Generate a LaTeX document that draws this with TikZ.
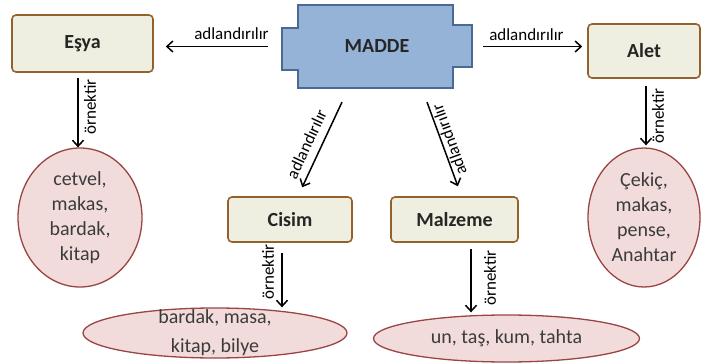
\documentclass[tikz,border=0pt]{standalone}
\usepackage{fontspec}
\setmainfont{Carlito}
\usepackage{tikz}
\usetikzlibrary{arrows.meta,shapes.geometric}
\definecolor{boxfill}{HTML}{EEEFE0}
\definecolor{boxrule}{HTML}{94602C}
\definecolor{blobfill}{HTML}{F2DCDB}
\definecolor{blobrule}{HTML}{9A4443}
\definecolor{mfill}{HTML}{95B3D7}
\definecolor{mrule}{HTML}{4A6A96}
\definecolor{ink}{HTML}{3B3B3B}
\begin{document}
\begin{tikzpicture}[x=1pt,y=-1pt,>={Straight Barb[length=6pt,width=11pt]},
 box/.style={draw=boxrule,line width=1.6pt,fill=boxfill,rounded corners=4pt,font=\fontsize{20}{24}\selectfont\bfseries,text=black!85},
 blob/.style={ellipse,draw=blobrule,line width=1.3pt,fill=blobfill,inner sep=0pt,align=center,font=\fontsize{20}{25}\selectfont,text=ink},
 lbl/.style={font=\fontsize{17}{20}\selectfont,inner sep=0pt},
 arr/.style={->,line width=1.5pt}]
\useasboundingbox (0,0) rectangle (706,363);
\draw[fill=mfill,draw=mrule,line width=1.3pt] (298,5) -- (453,5) -- (453,25) -- (472,25) -- (472,67) -- (453,67) -- (453,88) -- (298,88) -- (298,70) -- (282,70) -- (282,28) -- (298,28) -- cycle;
\node[minimum width=190pt,minimum height=83pt,font=\fontsize{20}{24}\selectfont\bfseries,text=black!85] (madde) at (377,46.5) {MADDE};
\node[box,minimum width=141pt,minimum height=57pt] (esya) at (82.5,43.5) {Eşya};
\node[box,minimum width=112pt,minimum height=54pt] (alet) at (644,51) {Alet};
\node[box,minimum width=124pt,minimum height=45pt] (cisim) at (290,219.5) {Cisim};
\node[box,minimum width=127pt,minimum height=45pt] (malzeme) at (454.5,219.5) {Malzeme};
\node[blob,minimum width=124pt,minimum height=139pt] (eblob) at (80,217.5) {cetvel,\\makas,\\bardak,\\kitap};
\node[blob,minimum width=112pt,minimum height=139pt] (ablob) at (644,217.5) {Çekiç,\\makas,\\pense,\\Anahtar};
\node[blob,minimum width=264pt,minimum height=50pt,inner ysep=-12pt,font=\fontsize{20}{29}\selectfont] (cblob) at (215,333) {bardak, masa,\\kitap, bilye};
\node[blob,minimum width=266pt,minimum height=47pt] (mblob) at (506.5,338.5) {un, taş, kum, tahta};
\draw[arr,shorten <=14pt,shorten >=12pt] (madde.west) -- (madde.west -| esya.east);
\draw[arr,shorten <=11pt,shorten >=5pt] (madde.east) -- (madde.east -| alet.west);
\draw[arr,shorten <=15.4pt,shorten >=9.9pt] ([xshift=-28.5pt]madde.south) -- ([xshift=8pt]cisim.north);
\draw[arr,shorten <=14.9pt,shorten >=10.6pt] ([xshift=44.9pt]madde.south) -- ([xshift=7pt]malzeme.north);
\draw[arr,shorten <=5pt] ([xshift=-4.5pt]esya.south) -- ([xshift=-2pt]eblob.north);
\draw[arr,shorten <=7pt,shorten >=2pt] ([xshift=2pt]alet.south) -- ([xshift=2pt]ablob.north);
\draw[arr,shorten <=10pt] ([xshift=-8pt]cisim.south) -- ([xshift=-8pt]cisim.south |- cblob.north);
\draw[arr,shorten <=6pt,shorten >=2pt] ([xshift=16.5pt]malzeme.south) -- ([xshift=16.5pt]malzeme.south |- mblob.north);
\node[lbl] (adlEsya) at (231.5,34) {adlandırılır};
\node[lbl] (adlAlet) at (526.5,35) {adlandırılır};
\node[lbl,rotate=65] (adlCisim) at (306.5,144) {adlandırılır};
\node[lbl,rotate=110] (adlMalzeme) at (449,140) {adlandırılır};
\node[lbl,rotate=90] (orkEsya) at (90,107) {örnektir};
\node[lbl,rotate=90] (orkAlet) at (658,116) {örnektir};
\node[lbl,rotate=90] (orkCisim) at (268,272) {örnektir};
\node[lbl,rotate=90] (orkMalzeme) at (490,278) {örnektir};
\end{tikzpicture}
\end{document}
